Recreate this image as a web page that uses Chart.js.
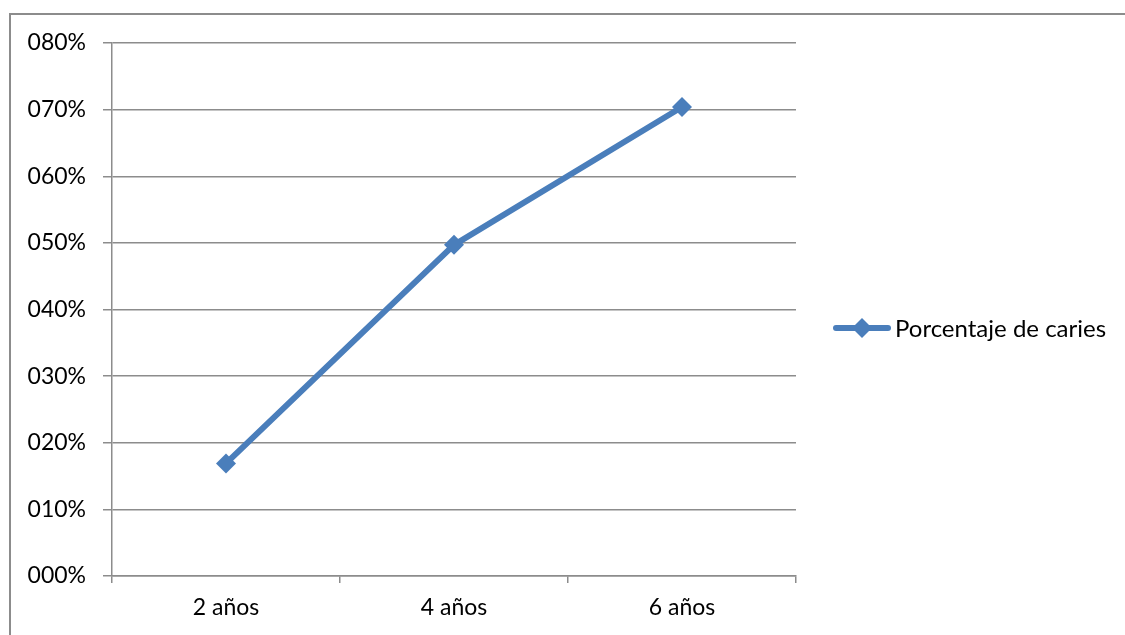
<!DOCTYPE html>
<html>
<head>
<meta charset="utf-8">
<script src="https://cdn.jsdelivr.net/npm/chart.js@4.4.0/dist/chart.umd.min.js"></script>
<style>
  html, body { margin: 0; padding: 0; background: #fff; }
  #wrap { position: relative; width: 1125px; height: 635px; }
</style>
</head>
<body>
<div id="wrap"><canvas id="myChart" width="1125" height="635"></canvas></div>
<script>
const categories = ["2 años", "4 años", "6 años"];
const caries = [0.169, 0.497, 0.704];
const seriesName = "Porcentaje de caries";

const blue = "#4a7ebb";
const gray = "#8c8c8c";
const fontName = "Lato";

// outer frame + legend drawn by hand (Excel style: line with diamond)
const framePlugin = {
  id: "frame",
  afterDraw(chart) {
    const c = chart.ctx;
    c.save();
    c.strokeStyle = gray;
    c.lineWidth = 2;
    c.beginPath();
    c.moveTo(10, 640);
    c.lineTo(10, 14);
    c.lineTo(1130, 14);
    c.stroke();

    const ds = chart.data.datasets[0];
    const ly = 328;
    c.strokeStyle = ds.borderColor;
    c.lineWidth = 6;
    c.lineCap = "round";
    c.beginPath();
    c.moveTo(836, ly);
    c.lineTo(888, ly);
    c.stroke();
    c.fillStyle = ds.pointBackgroundColor;
    c.beginPath();
    c.moveTo(862, ly - 10);
    c.lineTo(872, ly);
    c.lineTo(862, ly + 10);
    c.lineTo(852, ly);
    c.closePath();
    c.fill();
    c.fillStyle = "#000";
    c.font = "24px " + fontName;
    c.textBaseline = "middle";
    c.fillText(ds.label, 895, ly + 1);
    c.restore();
  }
};

new Chart(document.getElementById("myChart"), {
  type: "line",
  data: {
    labels: categories,
    datasets: [{
      label: seriesName,
      data: caries,
      borderColor: blue,
      backgroundColor: blue,
      pointBackgroundColor: blue,
      pointBorderColor: blue,
      borderWidth: 6,
      pointStyle: "rectRot",
      pointRadius: 10,
      pointBorderWidth: 0,
      tension: 0
    }]
  },
  options: {
    responsive: false,
    animation: false,
    devicePixelRatio: 1,
    layout: { padding: { left: 0, right: 329, top: 43, bottom: 0 } },
    plugins: {
      legend: { display: false },
      tooltip: { enabled: false }
    },
    scales: {
      x: {
        offset: true,
        grid: {
          offset: true,
          drawOnChartArea: false,
          tickLength: 7,
          color: gray,
          lineWidth: 1.5
        },
        border: { color: gray, width: 1.5 },
        ticks: {
          color: "#000",
          font: { family: fontName, size: 23 },
          padding: 11,
          maxRotation: 0
        },
        afterFit(scale) { scale.height = 59; }
      },
      y: {
        min: 0,
        max: 0.8,
        grid: {
          color: gray,
          lineWidth: 1.5,
          tickLength: 9
        },
        border: { color: gray, width: 1.5 },
        ticks: {
          stepSize: 0.1,
          color: "#000",
          font: { family: fontName, size: 23 },
          padding: 17,
          callback: v => String(Math.round(v * 100)).padStart(3, "0") + "%"
        },
        afterFit(scale) { scale.width = 112; }
      }
    }
  },
  plugins: [framePlugin]
});
</script>
</body>
</html>
